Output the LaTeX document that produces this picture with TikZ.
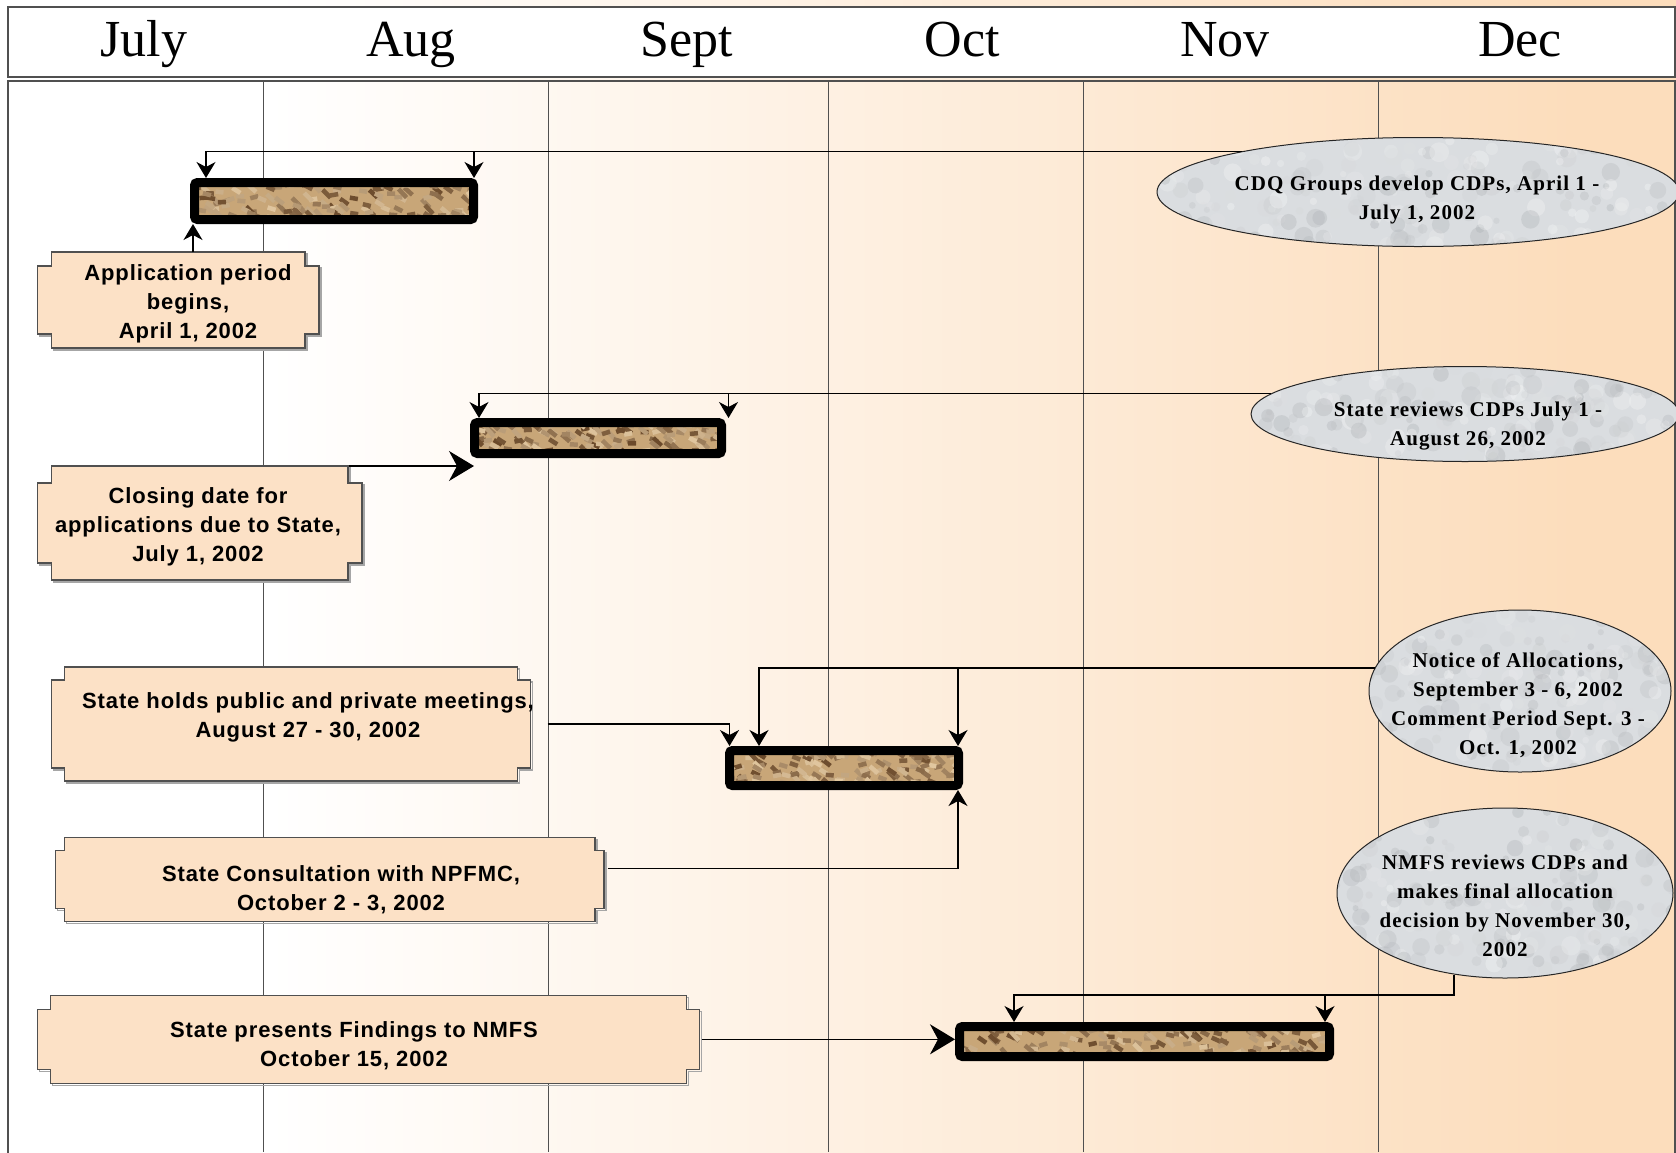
\documentclass[tikz,border=0pt]{standalone}
\usepackage{fontspec}
\setmainfont{Liberation Serif}
\newfontfamily\boxfont{Liberation Sans Bold}[LetterSpace=4]
\newfontfamily\ellfont{Liberation Serif Bold}[LetterSpace=5]
\usetikzlibrary{arrows.meta,calc,shapes.geometric}
\definecolor{peachR}{RGB}{252,221,188}
\definecolor{plaqueFill}{RGB}{252,225,198}
\definecolor{lineGray}{RGB}{80,80,80}
\definecolor{barLight}{RGB}{232,206,166}
\definecolor{barDark}{RGB}{92,58,28}
\definecolor{barBase}{RGB}{200,166,120}
\definecolor{marbleBase}{RGB}{218,221,224}
\definecolor{marbleDark}{RGB}{165,169,173}
\pgfdeclarehorizontalshading{bgshade}{100bp}{color(0bp)=(white); color(33bp)=(white); color(72bp)=(peachR); color(100bp)=(peachR)}
\pgfdeclarelayer{back}
\pgfdeclarelayer{mid}
\pgfsetlayers{back,mid,main}
\tikzset{
  month/.style={font=\fontsize{52}{60}\selectfont, anchor=base, inner sep=0pt},
  monthline/.style={draw=lineGray, line width=1pt},
  boxgeo/.style={rectangle, inner sep=0pt, outer sep=0pt},
  plaquest/.style={fill=plaqueFill, draw=lineGray, line width=1.3pt},
  plaqueshadow/.style={draw=gray!70, line width=1.3pt},
  boxtxt/.style={font=\boxfont\fontsize{22}{29}\selectfont, align=center, inner sep=0pt},
  elltxt/.style={font=\ellfont\fontsize{21}{29}\selectfont, align=center, inner sep=0pt},
  oval/.style={ellipse, draw=black!85, line width=1pt, inner sep=0pt},
  barbox/.style={rectangle, draw=black, line width=9pt, rounded corners=3pt, inner sep=0pt},
  arr/.style={draw=black, line width=1.3pt, -{Stealth[length=16pt,width=19pt,inset=5pt]}},
  bigarr/.style={draw=black, line width=1.3pt, -{Stealth[length=25pt,width=30pt,inset=8pt]}},
}
\newcommand\plaquedraw[4]{%
  \draw[#1] ($(#2.north west)+(#3,0)$) -- ($(#2.north east)+(-#3,0)$) -- ++(0,#4) -- ++(#3,0)
    -- ($(#2.south east)+(0,-#4)$) -- ++(-#3,0) -- ++(0,#4) -- ($(#2.south west)+(#3,0)$)
    -- ++(0,-#4) -- ++(-#3,0) -- ($(#2.north west)+(0,#4)$) -- ++(#3,0) -- cycle;}
\newcommand\plaque[3]{%
  \begin{scope}[transform canvas={shift={(2pt,-2pt)}}]\plaquedraw{plaqueshadow}{#1}{#2}{#3}\end{scope}
  \plaquedraw{plaquest}{#1}{#2}{#3}}
\newcommand\bartex[1]{%
  \begin{scope}
    \clip ($(#1.south west)+(5,-5)$) rectangle ($(#1.north east)+(-5,5)$);
    \fill[barBase] (#1.south west) rectangle (#1.north east);
    \foreach \k in {1,...,170}{%
      \pgfmathsetmacro\rndu{rnd}\pgfmathsetmacro\rndv{rnd}%
      \pgfmathsetmacro\rndc{int(5+85*rnd)}\pgfmathsetmacro\rnds{rnd}%
      \coordinate (ta) at ($(#1.north west)!\rndu!(#1.north east)$);
      \coordinate (tb) at ($(#1.south west)!\rndu!(#1.south east)$);
      \coordinate (tc) at ($(ta)!\rndv!(tb)$);
      \draw[line width=4.5pt, barDark!\rndc!barLight] (tc) -- ++(8,{12*\rnds-3});
    }
  \end{scope}}
\newcommand\marbletex[3]{%
  \begin{scope}
    \clip (#1.center) ellipse [x radius=#2pt, y radius=#3pt];
    \fill[marbleBase] (#1.center) ellipse [x radius=#2pt, y radius=#3pt];
    \foreach \k in {1,...,200}{%
      \pgfmathsetmacro\rndu{rand}\pgfmathsetmacro\rndv{rand}%
      \pgfmathsetmacro\rndr{3+7*rnd}\pgfmathsetmacro\rndc{int(100*rnd)}%
      \fill[white!\rndc!marbleDark, opacity=0.3] ($(#1.center)+({\rndu*#2},{\rndv*#3})$) circle [radius=\rndr pt];
    }
  \end{scope}}
\begin{document}
\begin{tikzpicture}[x=1pt,y=-1pt]
\pgfmathsetseed{12}
\useasboundingbox (0,0) rectangle (1676,1152);
\begin{pgfonlayer}{back}
  \shade[shading=bgshade] (0,0) rectangle (1676,1152);
  \draw[fill=white, draw=lineGray, line width=1.2pt] (8,7) rectangle (1675,77);
  \draw[lineGray, line width=1.2pt] (8,1160) -- (8,81) -- (1675,81) -- (1675,1160);
  \foreach \mx in {263,548,828,1083,1378} \draw[monthline] (\mx,81) -- (\mx,1152);
\end{pgfonlayer}

% month labels
\node[month] (mJul) at (144,56) {July};
\node[month] (mAug) at (411,56) {Aug};
\node[month] (mSep) at (687,56) {Sept};
\node[month] (mOct) at (962,56) {Oct};
\node[month] (mNov) at (1225,56) {Nov};
\node[month] (mDec) at (1520,56) {Dec};

% bars
\node[barbox, minimum width=279pt, minimum height=37pt] (bar1) at (334,201) {};
\node[barbox, minimum width=247pt, minimum height=31pt] (bar2) at (598,438) {};
\node[barbox, minimum width=229pt, minimum height=35pt] (bar3) at (844,768) {};
\node[barbox, minimum width=370pt, minimum height=30pt] (bar4) at (1144.5,1041.5) {};

% ellipses
\node[oval, minimum width=522pt, minimum height=109pt] (cdq) at (1418,192) {};
\node[oval, minimum width=428pt, minimum height=95pt] (rev) at (1465,414) {};
\node[oval, minimum width=302pt, minimum height=162pt] (notice) at (1520,691) {};
\node[oval, minimum width=336pt, minimum height=170pt] (nmfs) at (1505,893) {};
\node[elltxt] (cdqT) at (1417,200) {CDQ Groups develop CDPs, April 1 -\\July 1, 2002};
\node[elltxt] (revT) at (1468,426) {State reviews CDPs July 1 -\\August 26, 2002};
\node[elltxt] (notT) at (1518,705) {Notice of Allocations,\\September 3 - 6, 2002\\Comment Period Sept. 3 -\\Oct. 1, 2002};
\node[elltxt] (nmfsT) at (1505,906) {NMFS reviews CDPs and\\makes final allocation\\decision by November 30,\\2002};

% boxes
\node[boxgeo, minimum width=281.5pt, minimum height=96pt] (appB) at (178.3,300) {};
\node[boxgeo, minimum width=324.2pt, minimum height=114pt] (closeB) at (199.9,523) {};
\node[boxgeo, minimum width=479.3pt, minimum height=114pt] (meetB) at (291,724) {};
\node[boxgeo, minimum width=548.5pt, minimum height=84pt] (consB) at (329.7,879.7) {};
\node[boxgeo, minimum width=662pt, minimum height=88pt] (presB) at (368.6,1039.3) {};
\node[boxtxt] (appT) at (188,304) {Application period\\begins,\\April 1, 2002};
\node[boxtxt] (closeT) at (198,527) {Closing date for\\applications due to State,\\July 1, 2002};
\node[boxtxt] (meetT) at (308,717) {State holds public and private meetings,\\August 27 - 30, 2002};
\node[boxtxt] (consT) at (341,890) {State Consultation with NPFMC,\\October 2 - 3, 2002};
\node[boxtxt] (presT) at (354,1046) {State presents Findings to NMFS\\October 15, 2002};

\begin{pgfonlayer}{mid}
  \bartex{bar1}\bartex{bar2}\bartex{bar3}\bartex{bar4}
  \marbletex{cdq}{261}{54.5}
  \marbletex{rev}{214}{47.5}
  \marbletex{notice}{151}{81}
  \marbletex{nmfs}{168}{85}
  \plaque{appB}{14}{14}
  \plaque{closeB}{14}{17}
  \plaque{meetB}{13}{13}
  \plaque{consB}{9}{13}
  \plaque{presB}{13}{14}
\end{pgfonlayer}

% connectors
\coordinate (b1a) at ($(bar1.south west)+(3,0)$);
\draw[arr] (appB.north -| b1a) -- (b1a);
\draw[arr] (cdq.167) -| ($(bar1.north west)+(16,0)$);
\draw[arr] (cdq.167) -| ($(bar1.north east)+(-4,0)$);
\draw[arr] (rev.174) -| ($(bar2.north west)+(9,0)$);
\draw[arr] (rev.174) -| ($(bar2.north east)+(2.5,0)$);
\draw[bigarr] ($(closeB.north east)+(-13,0)$) -- ($(closeB.north east -| bar2.west)+(4,0)$);
\draw[arr] ($(meetB.east)+(17,0)$) -| ($(bar3.north west)+(4.5,0)$);
\draw[arr] (notice.171) -| ($(bar3.north west)+(34,0)$);
\draw[arr] (notice.171) -| ($(bar3.north east)+(-5,0)$);
\draw[arr] ($(consB.east)+(4,-11)$) -| ($(bar3.south east)+(-5,0)$);
\draw[arr] (nmfs.238) |- ($(bar4.north west)+(59,-27)$) -- ($(bar4.north west)+(59,0)$);
\draw[arr] (nmfs.238) |- ($(bar4.north east)+(-9,-27)$) -- ($(bar4.north east)+(-9,0)$);
\draw[bigarr] ($(presB.east)+(2,0)$) -- (presB.east -| bar4.west);
\end{tikzpicture}
\end{document}
